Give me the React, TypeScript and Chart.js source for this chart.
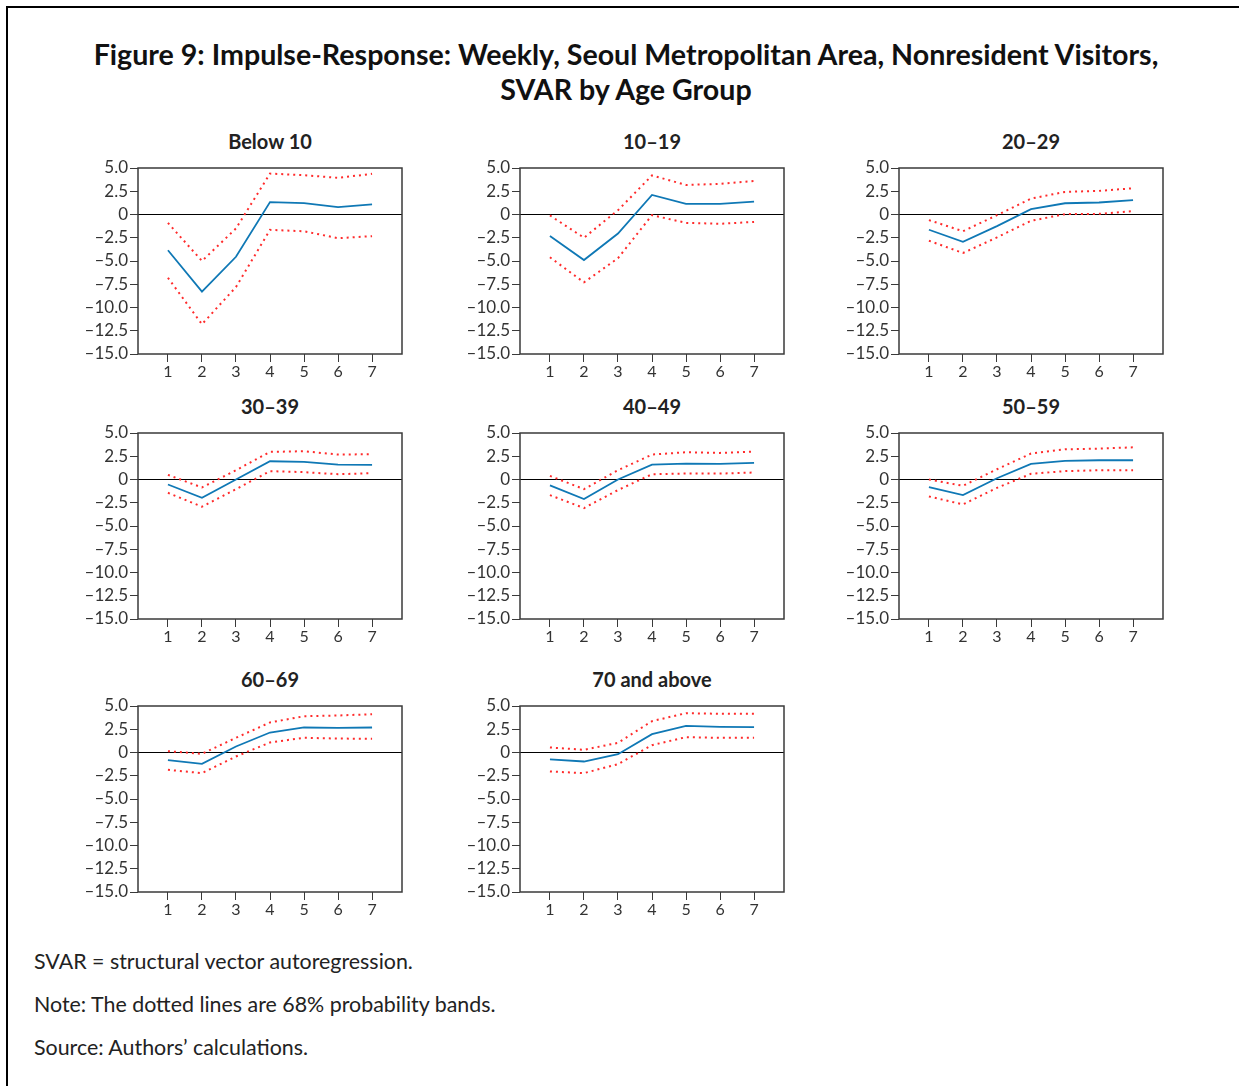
import React, { useEffect, useRef } from "react";
import { Chart, registerables } from "chart.js";

Chart.register(...registerables);

// ---------- data ----------
const HORIZONS = [1, 2, 3, 4, 5, 6, 7];
const Y_TICKS = [5, 2.5, 0, -2.5, -5, -7.5, -10, -12.5, -15];
const PANEL_TITLES = ["Below 10", "10–19", "20–29", "30–39", "40–49", "50–59", "60–69", "70 and above"];

const below10Response = [-3.84, -8.3, -4.55, 1.33, 1.22, 0.79, 1.08];
const below10Upper = [-0.9, -5.0, -1.5, 4.4, 4.23, 3.94, 4.37];
const below10Lower = [-6.8, -11.8, -7.8, -1.65, -1.8, -2.55, -2.33];

const age10Response = [-2.32, -4.9, -2.04, 2.1, 1.14, 1.14, 1.39];
const age10Upper = [-0.1, -2.5, 0.46, 4.2, 3.18, 3.29, 3.6];
const age10Lower = [-4.6, -7.3, -4.7, -0.07, -0.9, -1.0, -0.8];

const age20Response = [-1.64, -2.93, -1.25, 0.57, 1.21, 1.29, 1.54];
const age20Upper = [-0.6, -1.8, -0.07, 1.71, 2.43, 2.54, 2.82];
const age20Lower = [-2.82, -4.14, -2.46, -0.68, 0.04, 0.07, 0.36];

const age30Response = [-0.54, -1.96, 0.0, 1.96, 1.9, 1.6, 1.57];
const age30Upper = [0.5, -0.86, 1.0, 2.97, 3.04, 2.68, 2.72];
const age30Lower = [-1.43, -2.93, -1.04, 0.9, 0.79, 0.57, 0.68];

const age40Response = [-0.64, -2.1, 0.0, 1.6, 1.71, 1.68, 1.78];
const age40Upper = [0.39, -1.04, 1.0, 2.68, 2.93, 2.86, 3.0];
const age40Lower = [-1.68, -3.07, -1.14, 0.57, 0.64, 0.64, 0.75];

const age50Response = [-0.82, -1.68, 0.14, 1.68, 2.0, 2.07, 2.07];
const age50Upper = [0.0, -0.68, 1.1, 2.79, 3.25, 3.32, 3.46];
const age50Lower = [-1.82, -2.68, -0.9, 0.61, 0.9, 1.0, 1.0];

const age60Response = [-0.82, -1.22, 0.65, 2.15, 2.69, 2.65, 2.69];
const age60Upper = [0.14, -0.14, 1.58, 3.23, 3.9, 3.98, 4.12];
const age60Lower = [-1.86, -2.22, -0.43, 1.08, 1.58, 1.5, 1.47];

const age70Response = [-0.75, -0.97, -0.18, 1.97, 2.87, 2.76, 2.72];
const age70Upper = [0.54, 0.29, 1.04, 3.37, 4.23, 4.16, 4.16];
const age70Lower = [-2.04, -2.22, -1.25, 0.79, 1.65, 1.58, 1.58];

const RESPONSES = [below10Response, age10Response, age20Response, age30Response, age40Response, age50Response, age60Response, age70Response];
const UPPERS = [below10Upper, age10Upper, age20Upper, age30Upper, age40Upper, age50Upper, age60Upper, age70Upper];
const LOWERS = [below10Lower, age10Lower, age20Lower, age30Lower, age40Lower, age50Lower, age60Lower, age70Lower];

// ---------- layout ----------
const PLOT_LEFTS = [138, 520, 899];
const PLOT_TOPS = [168, 433, 706];
const PLOT_W = 264;
const PLOT_H = 186;
const AXIS_W = 70;
const PAD_TOP = 16;
const PAD_RIGHT = 10;
const AXIS_H = 30;

const FONT = "Lato, 'Noto Sans', sans-serif";
const BLUE = "#0f78b5";
const RED = "#ff2b2b";

const fmtY = (v: number) => (v === 0 ? "0" : v.toFixed(1).replace("-", "–"));

const boxPlugin = {
  id: "plotBox",
  afterDraw(chart: any) {
    const { ctx, chartArea } = chart;
    ctx.save();
    ctx.strokeStyle = "#3a3a3a";
    ctx.lineWidth = 1.5;
    ctx.strokeRect(chartArea.left, chartArea.top, chartArea.right - chartArea.left, chartArea.bottom - chartArea.top);
    ctx.restore();
  },
};

function Panel({ index }: { index: number }) {
  const ref = useRef<HTMLCanvasElement | null>(null);
  useEffect(() => {
    if (!ref.current) return;
    const toPts = (arr: number[]) => HORIZONS.map((h, i) => ({ x: h, y: arr[i] }));
    const chart = new Chart(ref.current, {
      type: "line",
      data: {
        datasets: [
          {
            data: toPts(UPPERS[index]),
            borderColor: RED,
            borderWidth: 2,
            borderDash: [2, 4],
            pointRadius: 0,
            fill: false,
          },
          {
            data: toPts(LOWERS[index]),
            borderColor: RED,
            borderWidth: 2,
            borderDash: [2, 4],
            pointRadius: 0,
            fill: false,
          },
          {
            data: toPts(RESPONSES[index]),
            borderColor: BLUE,
            borderWidth: 1.8,
            pointRadius: 0,
            fill: false,
          },
        ],
      },
      options: {
        animation: false,
        responsive: false,
        maintainAspectRatio: false,
        layout: { padding: { top: PAD_TOP, right: PAD_RIGHT, left: 0, bottom: 0 } },
        plugins: { legend: { display: false }, tooltip: { enabled: false }, title: { display: false } },
        scales: {
          x: {
            type: "linear",
            min: 0.12,
            max: 7.88,
            afterBuildTicks: (scale: any) => {
              scale.ticks = HORIZONS.map((v) => ({ value: v }));
            },
            afterFit: (scale: any) => {
              scale.height = AXIS_H;
            },
            border: { display: false },
            grid: { drawOnChartArea: false, drawTicks: true, tickLength: 8, tickColor: "#3a3a3a", tickWidth: 1 },
            ticks: {
              autoSkip: false,
              maxRotation: 0,
              padding: 0,
              color: "#333",
              font: { family: FONT, size: 16 },
              callback: (v: any) => String(v),
            },
          },
          y: {
            min: -15,
            max: 5,
            afterBuildTicks: (scale: any) => {
              scale.ticks = Y_TICKS.map((v) => ({ value: v }));
            },
            afterFit: (scale: any) => {
              scale.width = AXIS_W;
            },
            border: { display: false },
            grid: {
              drawOnChartArea: true,
              color: (ctx: any) => (ctx.tick && ctx.tick.value === 0 ? "#000" : "rgba(0,0,0,0)"),
              lineWidth: 1,
              drawTicks: true,
              tickLength: 8,
              tickColor: "#3a3a3a",
              tickWidth: 1,
            },
            ticks: {
              autoSkip: false,
              padding: 2,
              color: "#333",
              font: { family: FONT, size: 17, lineHeight: 1 },
              callback: (v: any) => fmtY(Number(v)),
            },
          },
        },
      },
      plugins: [boxPlugin],
    } as any);
    return () => chart.destroy();
  }, [index]);

  const col = index % 3;
  const row = Math.floor(index / 3);
  const left = PLOT_LEFTS[col];
  const top = PLOT_TOPS[row];
  const cw = AXIS_W + PLOT_W + PAD_RIGHT;
  const ch = PAD_TOP + PLOT_H + AXIS_H;
  return (
    <>
      <div
        style={{
          position: "absolute",
          left: left - 60,
          width: PLOT_W + 120,
          top: top - 39,
          lineHeight: "24px",
          textAlign: "center",
          fontFamily: FONT,
          fontWeight: 700,
          fontSize: 20,
          color: "#222",
        }}
      >
        {PANEL_TITLES[index]}
      </div>
      <canvas
        ref={ref}
        width={cw}
        height={ch}
        style={{ position: "absolute", left: left - AXIS_W, top: top - PAD_TOP, width: cw, height: ch }}
      />
    </>
  );
}

export default function App() {
  return (
    <div style={{ position: "fixed", left: 0, top: 0, width: 1239, height: 1086, overflow: "hidden", background: "#fff" }}>
      <div
        style={{
          position: "absolute",
          left: 6,
          top: 6,
          width: 1400,
          height: 1300,
          border: "2px solid #000",
          boxSizing: "border-box",
        }}
      />
      <div
        style={{
          position: "absolute",
          left: 0,
          width: 1252,
          top: 37,
          textAlign: "center",
          fontFamily: FONT,
          fontWeight: 700,
          fontSize: 28.6,
          lineHeight: "35px",
          color: "#111",
          whiteSpace: "nowrap",
        }}
      >
        Figure 9: Impulse-Response: Weekly, Seoul Metropolitan Area, Nonresident Visitors,
        <br />
        SVAR by Age Group
      </div>
      {PANEL_TITLES.map((_, i) => (
        <Panel key={i} index={i} />
      ))}
      {[
        { text: "SVAR = structural vector autoregression.", y: 961 },
        { text: "Note: The dotted lines are 68% probability bands.", y: 1004 },
        { text: "Source: Authors’ calculations.", y: 1047 },
      ].map((n) => (
        <div
          key={n.y}
          style={{
            position: "absolute",
            left: 34,
            top: n.y - 13,
            lineHeight: "26px",
            fontFamily: FONT,
            fontSize: 21.4,
            color: "#222",
            whiteSpace: "nowrap",
          }}
        >
          {n.text}
        </div>
      ))}
    </div>
  );
}
